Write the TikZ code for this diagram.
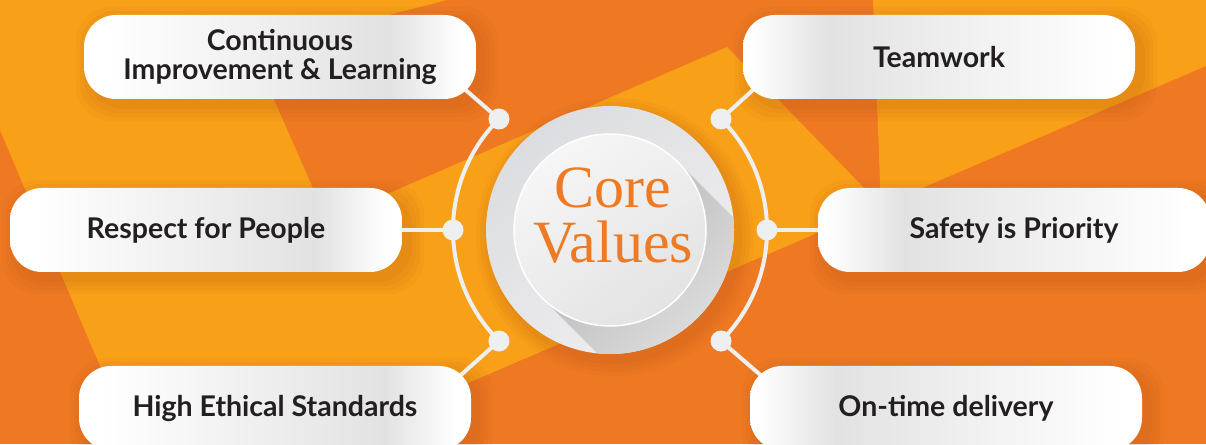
\documentclass[tikz,border=0pt]{standalone}
\usepackage{fontspec}
\usepackage{tikz}
\usetikzlibrary{calc}
\newfontfamily\latofont{Lato}
\newfontfamily\titlefont{Liberation Serif}
\definecolor{cvorange}{HTML}{EF7922}
\definecolor{cvyellow}{HTML}{F9A019}
\definecolor{cvtext}{HTML}{231F20}
\definecolor{cvlink}{HTML}{EEEFF1}
\definecolor{cvgray}{HTML}{E2E2E3}
\definecolor{cvring}{HTML}{DCDDE0}
\definecolor{cvringlight}{HTML}{EFEFF0}
\definecolor{cvshadow}{HTML}{B4B4B4}
\definecolor{cvdisc}{HTML}{F6F6F6}
\definecolor{cvdiscdark}{HTML}{E3E3E3}
\definecolor{cvtitle}{HTML}{EE7A24}
\definecolor{cvdrop}{HTML}{A04010}
\pgfdeclarelayer{backdrop}
\pgfdeclarelayer{links}
\pgfsetlayers{backdrop,links,main}
\pgfdeclarehorizontalshading{pillleft}{100bp}{color(0bp)=(white); color(28bp)=(white); color(64bp)=(cvgray); color(73bp)=(white); color(100bp)=(white)}
\pgfdeclarehorizontalshading{pillright}{100bp}{color(0bp)=(white); color(26bp)=(white); color(36bp)=(cvgray); color(72bp)=(white); color(100bp)=(white)}

\begin{document}
\begin{tikzpicture}[x=1pt, y=1pt,
  pill/.style={rectangle, rounded corners=32pt, minimum width=392pt, minimum height=84pt, inner sep=0pt, align=center, text=cvtext, font=\latofont\bfseries\fontsize{28.5}{29}\selectfont},
  pillL/.style={pill, shade, shading=pillleft},
  pillR/.style={pill, shade, shading=pillright},
  dot/.style={circle, fill=cvlink, inner sep=0pt, minimum size=21pt},
  link/.style={draw=cvlink, line width=4pt},
  drop/.style={fill=cvdrop, fill opacity=0.05}]
\useasboundingbox (0,0) rectangle (1206,444);

\begin{pgfonlayer}{backdrop}
\fill[cvorange] (0,0) rectangle (1206,444);
\fill[cvyellow] (0,444) -- (447,444) -- (252,394) -- (327,224) -- (727,397) -- (868,252) .. controls (876,243) and (881,247) .. (880,262) -- (873,444) -- (1206,444) -- (1206,378) -- (326,0) -- (133,0) -- (0,314) -- cycle;
\end{pgfonlayer}

\coordinate (c) at (610,214);
\node[circle, minimum size=248pt, inner sep=0pt, top color=cvring, bottom color=cvringlight, shading angle=40] (ring) at (c) {};
\begin{scope}
\clip (c) circle (124);
\shade[top color=cvshadow, bottom color=cvringlight, shading angle=45] ($(c)+(45:96)$) -- ++(-45:170) -- ($(c)+(225:96)+(-45:170)$) -- ($(c)+(225:96)$) -- cycle;
\end{scope}
\node[circle, minimum size=192pt, inner sep=0pt, top color=cvdisc, bottom color=cvdiscdark, shading angle=35, draw=white, line width=1.5pt] (disc) at (c) {};
\node[align=center, text=cvtitle, font=\titlefont\fontsize{60}{55}\selectfont, inner sep=0pt] (title) at ($(c)+(3,14)$) {Core\\Values};

\node[pillL] (cont) at (280,387) {Continuous\\Improvement \& Learning};
\node[pillL] (resp) at (206,214) {Respect for People};
\node[pillL] (high) at (275,36) {High Ethical Standards};
\node[pillR] (team) at (939,387) {Teamwork};
\node[pillR] (safe) at (1014,214) {Safety is Priority};
\node[pillR] (ontime) at (946,36) {On-time delivery};

\node[dot] (d1) at ($(c)+(135:157)$) {};
\node[dot] (d2) at ($(c)+(180:157)$) {};
\node[dot] (d3) at ($(c)+(225:157)$) {};
\node[dot] (d4) at ($(c)+(45:157)$) {};
\node[dot] (d5) at ($(c)+(0:157)$) {};
\node[dot] (d6) at ($(c)+(-45:157)$) {};

\begin{pgfonlayer}{backdrop}
\foreach \p in {cont,resp,high,team,safe,ontime}
  \foreach \g in {3,7,11,15}
    \fill[drop, rounded corners=36pt] ($(\p.south west)+(7-\g,-7-\g)$) rectangle ($(\p.north east)+(7+\g,-7+\g)$);
\foreach \g in {3,7,11,15}
  \fill[drop] ($(ring.center)+(5,-7)$) circle (124+\g);
\end{pgfonlayer}

\begin{pgfonlayer}{links}
\draw[link] (d1.center) arc[start angle=135, end angle=225, radius=157];
\draw[link] (d4.center) arc[start angle=45, end angle=-45, radius=157];
\draw[link, shorten >=-14pt] (d1.center) -- (cont.south east);
\draw[link] (d2.center) -- (resp.east);
\draw[link, shorten >=-14pt] (d3.center) -- (high.north east);
\draw[link, shorten >=-14pt] (d4.center) -- (team.south west);
\draw[link] (d5.center) -- (safe.west);
\draw[link, shorten >=-14pt] (d6.center) -- (ontime.north west);
\end{pgfonlayer}
\end{tikzpicture}
\end{document}
